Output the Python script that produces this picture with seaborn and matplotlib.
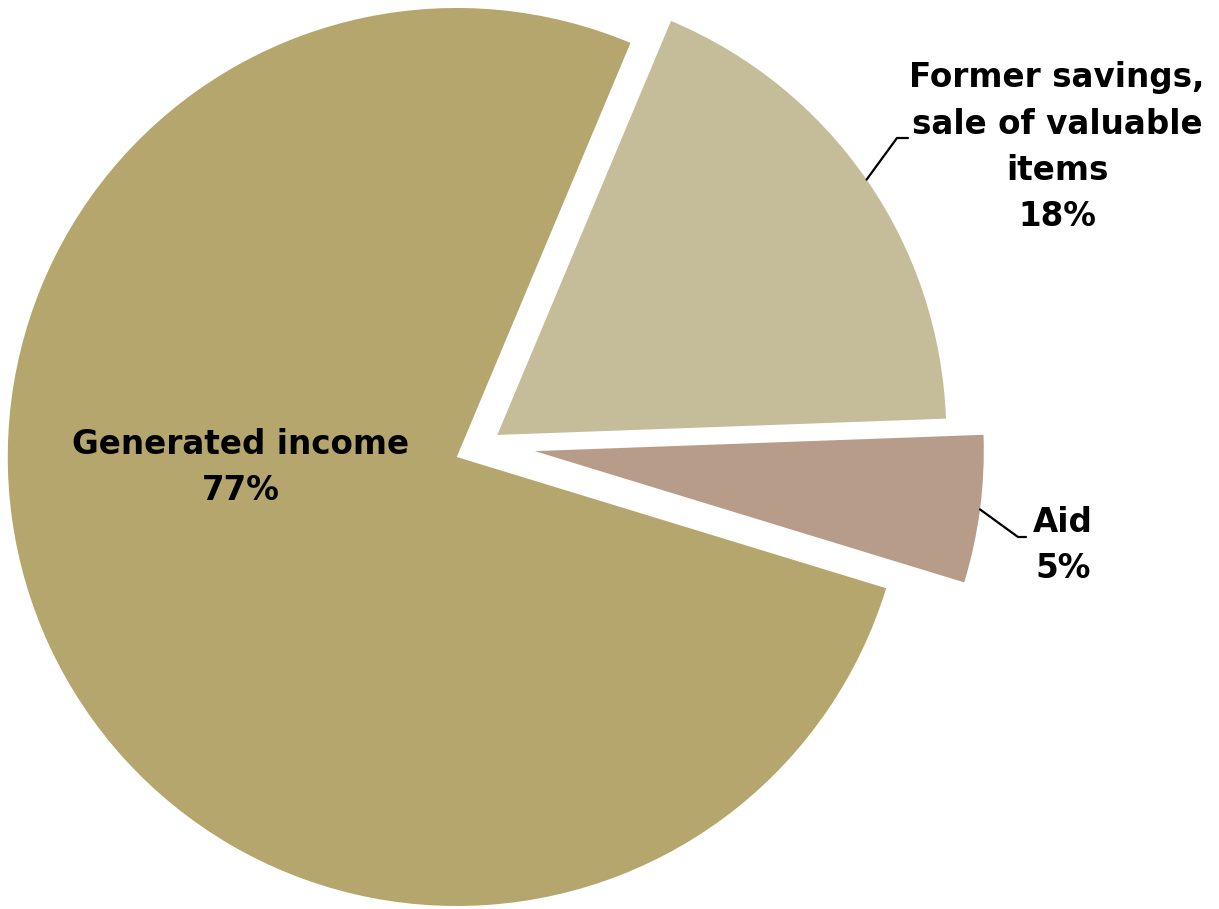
import numpy as np
import matplotlib
matplotlib.use("Agg")
import matplotlib.pyplot as plt
import seaborn as sns

# shares of household resources (slice sizes, labels rounded)
labels = ["Generated income", "Former savings,\nsale of valuable\nitems", "Aid"]
shares = [76.6, 18.1, 5.3]
colors = ["#B4A66C", "#C5BD9A", "#B89C8A"]
explode = [0.066, 0.037, 0.115]

sns.set_theme(style="white")
plt.rcParams['font.family'] = ['DejaVu Sans']

W, H = 1219, 909
cx, cy, R = 483.6, 444.4, 449.0  # pie centre / radius in pixels


def px(x, y):
    # pixel position -> data units (pie radius = 1)
    return (x - cx) / R, (cy - y) / R


fig = plt.figure(figsize=(W / 100, H / 100), dpi=100)
ax = fig.add_axes([0, 0, 1, 1])
wedges, _ = ax.pie(shares, colors=colors, explode=explode, startangle=-17,
                   counterclock=False, radius=1, wedgeprops=dict(linewidth=0))
ax.set_xlim(-cx / R, (W - cx) / R)
ax.set_ylim(-(H - cy) / R, cy / R)
ax.axis("off")

txt = dict(ha="center", va="center", fontsize=23.5, fontweight="bold",
           color="black", linespacing=1.5, multialignment="center")

ax.text(*px(241, 467), f"{labels[0]}\n{shares[0]:.0f}%", **txt)
ax.text(*px(1057, 147), f"{labels[1]}\n{shares[1]:.0f}%", **txt)
ax.text(*px(1063, 545), f"{labels[2]}\n{shares[2]:.0f}%", **txt)

# leader lines from slice edge to label
elbows = {1: [(897, 138), (908, 138)], 2: [(1018, 537), (1026, 537)]}
for i, pts in elbows.items():
    w = wedges[i]
    mid = np.deg2rad((w.theta1 + w.theta2) / 2)
    x0 = w.center[0] + w.r * np.cos(mid)
    y0 = w.center[1] + w.r * np.sin(mid)
    xs = [x0] + [px(*p)[0] for p in pts]
    ys = [y0] + [px(*p)[1] for p in pts]
    ax.plot(xs, ys, color="black", lw=1.6)

fig.savefig("out.png", dpi=100)
